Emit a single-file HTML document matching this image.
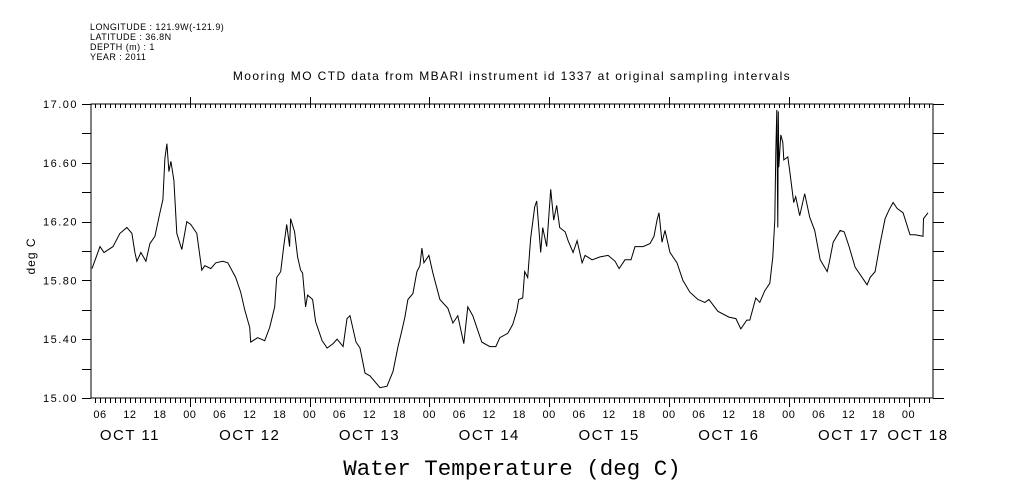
<!DOCTYPE html>
<html><head><meta charset="utf-8"><style>
html,body{margin:0;padding:0;background:#fff;}
svg{display:block;font-family:"Liberation Sans",sans-serif;}
</style></head><body>
<svg width="1009" height="504" viewBox="0 0 1009 504">
<g font-size="9" fill="#000" letter-spacing="0.45">
<text x="90" y="30">LONGITUDE : 121.9W(-121.9)</text>
<text x="90" y="40">LATITUDE : 36.8N</text>
<text x="90" y="50">DEPTH (m) : 1</text>
<text x="90" y="60">YEAR : 2011</text>
</g>
<text x="512" y="80" font-size="12" letter-spacing="1.4" text-anchor="middle">Mooring MO CTD data from MBARI instrument id 1337 at original sampling intervals</text>
<text x="0" y="0" font-size="12" letter-spacing="1" text-anchor="middle" transform="translate(35,256) rotate(-90)">deg C</text>
<text x="512" y="475" font-size="22.5" text-anchor="middle" font-family="Liberation Mono, monospace">Water Temperature (deg C)</text>
<g id="axes"></g>
<path id="line" fill="none" stroke="#000" stroke-width="1"/>
</svg>
<script>
const hours=[4.4,6.0,6.8,8.6,10.0,11.4,12.4,13.0,13.4,14.2,15.2,16.0,17.0,18.0,18.6,19.0,19.4,19.8,20.2,20.8,21.4,22.4,23.4,24.2,25.4,26.4,27.0,28.2,29.2,30.6,31.6,33.2,34.2,35.0,36.0,36.2,37.6,39.0,40.0,41.0,41.4,42.2,42.8,43.4,44.0,44.2,45.0,45.6,46.2,46.6,47.2,47.6,48.6,49.2,50.5,51.5,52.7,53.5,54.7,55.5,56.1,57.3,58.1,59.1,60.1,62.1,63.5,64.7,65.7,66.5,67.1,67.7,68.7,69.5,70.1,70.5,70.9,71.9,72.7,74.1,75.7,76.7,77.7,78.9,79.7,80.7,82.5,84.1,85.3,86.1,87.7,88.7,89.5,89.9,90.7,91.1,91.7,92.3,93.1,93.5,94.3,94.7,95.5,96.3,96.9,97.5,98.1,99.2,99.8,100.8,101.6,102.6,103.2,104.6,106.2,107.8,109.2,110.0,111.2,112.4,113.2,114.8,116.2,117.0,117.6,118.0,118.6,119.2,120.2,121.6,122.8,124.2,125.8,127.2,128.0,129.8,132.0,133.4,134.4,135.6,136.2,137.4,138.2,139.2,140.2,140.8,141.2,141.4,141.6,141.8,141.9,142.0,142.4,142.8,143.0,143.8,144.2,145.0,145.4,146.2,147.2,148.2,149.2,150.3,151.7,152.1,152.9,154.3,155.1,156.1,157.3,159.7,160.3,161.3,162.3,163.3,164.1,164.9,165.7,166.9,168.3,169.3,170.9,171.0,171.9];
const temps=[15.88,16.03,15.99,16.03,16.12,16.16,16.12,15.99,15.93,15.99,15.93,16.05,16.10,16.26,16.35,16.63,16.73,16.54,16.61,16.48,16.12,16.01,16.20,16.18,16.12,15.87,15.90,15.88,15.92,15.93,15.92,15.82,15.72,15.60,15.48,15.38,15.41,15.39,15.48,15.62,15.82,15.86,16.03,16.18,16.03,16.22,16.13,15.96,15.87,15.85,15.62,15.70,15.67,15.52,15.39,15.34,15.37,15.40,15.35,15.54,15.56,15.38,15.34,15.17,15.15,15.07,15.08,15.18,15.35,15.46,15.55,15.67,15.71,15.86,15.90,16.02,15.92,15.97,15.85,15.67,15.61,15.51,15.56,15.37,15.62,15.56,15.38,15.35,15.35,15.41,15.44,15.50,15.59,15.67,15.68,15.86,15.82,16.09,16.30,16.34,15.99,16.16,16.03,16.42,16.21,16.31,16.16,16.13,16.07,15.99,16.07,15.92,15.97,15.94,15.96,15.97,15.93,15.88,15.94,15.94,16.03,16.03,16.05,16.10,16.21,16.26,16.06,16.14,15.99,15.92,15.80,15.72,15.67,15.65,15.67,15.59,15.55,15.54,15.47,15.53,15.53,15.68,15.65,15.73,15.78,15.96,16.21,16.67,16.96,16.16,16.95,16.57,16.79,16.74,16.62,16.64,16.54,16.33,16.37,16.24,16.39,16.23,16.14,15.94,15.86,15.92,16.06,16.14,16.13,16.03,15.89,15.77,15.82,15.86,16.05,16.22,16.28,16.33,16.29,16.26,16.11,16.11,16.10,16.22,16.26];
const yTickLabels=["15.00","15.40","15.80","16.20","16.60","17.00"];
const hourLabels=["06","12","18","00"];
const dayLabels=["OCT 11","OCT 12","OCT 13","OCT 14","OCT 15","OCT 16","OCT 17","OCT 18"];
const X0=91,X1=933,Y0=104,Y1=398,HMIN=4.2,HMAX=172.9,VMIN=15,VMAX=17;
const sx=h=>X0+(h-HMIN)/(HMAX-HMIN)*(X1-X0);
const sy=v=>Y1-(v-VMIN)/(VMAX-VMIN)*(Y1-Y0);
const NS="http://www.w3.org/2000/svg";
const g=document.getElementById('axes');
let d='';
function mk(tag,attrs){const e=document.createElementNS(NS,tag);for(const k in attrs)e.setAttribute(k,attrs[k]);g.appendChild(e);return e;}
const frame=mk('rect',{x:X0,y:Y0,width:X1-X0,height:Y1-Y0,fill:'none',stroke:'#000','stroke-width':1});


let tp='';
for(let i=0;i<=10;i++){const y=Math.round(sy(VMIN+i*0.2))+0.5;tp+=`M${X0-9},${y}H${X0}M${X1},${y}H${X1+11}`;}
for(let h=Math.ceil(HMIN);h<=HMAX;h++){const x=Math.round(sx(h))+0.5;
 if(h%24===0){tp+=`M${x},${Y0}V${Y0-7}M${x},${Y0}V${Y0+4}M${x},${Y1}V${Y1+9}`;}
 else{tp+=`M${x},${Y0}V${Y0+4}M${x},${Y1}V${Y1+5}`;}}
const ticks=mk('path',{d:tp,stroke:'#000','stroke-width':1,fill:'none'});


yTickLabels.forEach(s=>{const t=mk('text',{x:78,y:sy(parseFloat(s))+4,'font-size':11,'letter-spacing':1.5,'text-anchor':'end'});t.textContent=s;
 
 });
for(let h=6;h<=HMAX;h+=6){const t=mk('text',{x:sx(h),y:418,'font-size':11,'letter-spacing':0.5,'text-anchor':'middle'});t.textContent=hourLabels[(h/6-1)%4];
 
 }
dayLabels.forEach((s,i)=>{let h=12+24*i;let x=sx(h);if(x>X1-15)x=918;const t=mk('text',{x:x,y:440,'font-size':15,'letter-spacing':1.5,'text-anchor':'middle'});t.textContent=s;
 
 });
hours.forEach((h,i)=>{d+=(i?'L':'M')+sx(h).toFixed(1)+','+sy(temps[i]).toFixed(1);});
document.getElementById('line').setAttribute('d',d);
</script>
</body></html>
